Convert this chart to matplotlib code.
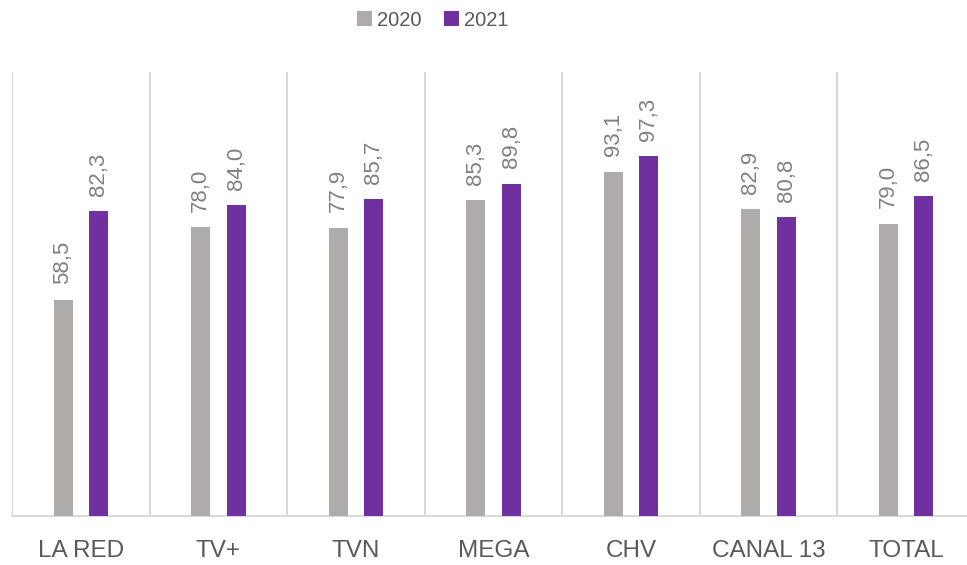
import matplotlib
matplotlib.use("Agg")
import matplotlib.pyplot as plt
import numpy as np

categories = ["LA RED", "TV+", "TVN", "MEGA", "CHV", "CANAL 13", "TOTAL"]
vals_2020 = [58.5, 78.0, 77.9, 85.3, 93.1, 82.9, 79.0]
vals_2021 = [82.3, 84.0, 85.7, 89.8, 97.3, 80.8, 86.5]
series_names = ["2020", "2021"]

gray = "#AFABAB"
purple = "#7030A0"
line_col = "#D9D9D9"

font = ["Liberation Sans", "DejaVu Sans"]

fig = plt.figure(figsize=(9.67, 5.65), dpi=100)
# plot area runs slightly past the right edge of the picture, like the original
ax = fig.add_axes([12 / 967, 49 / 565, 963 / 967, 444 / 565])

x = np.arange(len(categories))
w = 0.138
off = 0.129
b1 = ax.bar(x - off, vals_2020, w, color=gray, label=series_names[0], zorder=3)
b2 = ax.bar(x + off, vals_2021, w, color=purple, label=series_names[1], zorder=3)

for bars, vals in [(b1, vals_2020), (b2, vals_2021)]:
    for r, v in zip(bars, vals):
        ax.annotate(f"{v:.1f}".replace(".", ","),
                    (r.get_x() + r.get_width() / 2, r.get_height()),
                    xytext=(0, 11), textcoords="offset points",
                    rotation=90, ha="center", va="bottom",
                    fontsize=16, color="#808080", family=font)

# separators between categories
for s in np.arange(-0.5, len(categories), 1.0):
    ax.axvline(s, color=line_col, lw=1.5, zorder=1)

ax.set_xlim(-0.5, len(categories) - 0.5)
ax.set_ylim(0, 120)
for sp in ["top", "right", "left"]:
    ax.spines[sp].set_visible(False)
ax.spines["bottom"].set_color(line_col)
ax.spines["bottom"].set_linewidth(1.5)
ax.set_yticks([])
ax.set_xticks(x)
ax.set_xticklabels(categories, fontsize=17.5, color="#595959", family=font)
ax.tick_params(axis="x", length=0, pad=17)

fig.legend(loc="center", bbox_to_anchor=(433 / 967, 1 - 20 / 565), ncol=2,
           frameon=False, handlelength=0.75, handleheight=0.75,
           handletextpad=0.25, columnspacing=1.1,
           prop={"family": font, "size": 14.5}, labelcolor="#595959")

fig.savefig("out.png", dpi=100)
